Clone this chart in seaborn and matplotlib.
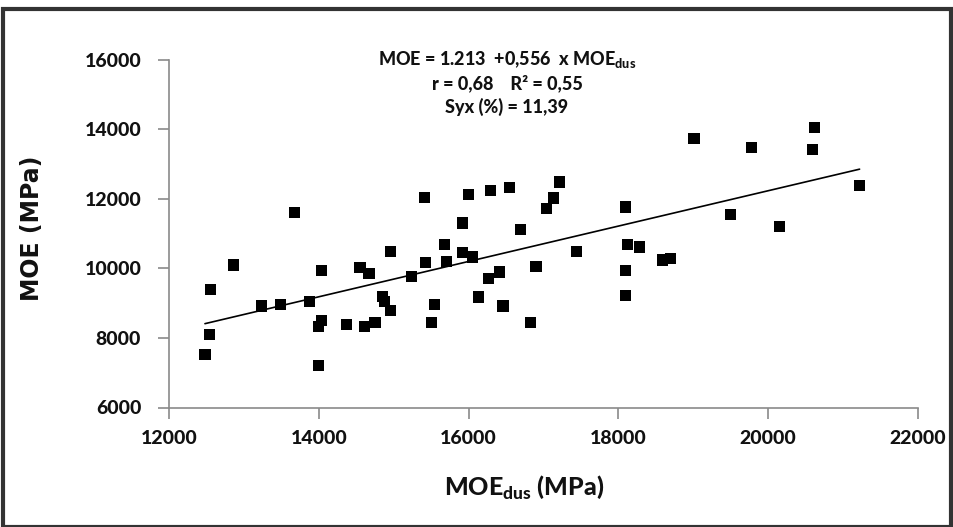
import numpy as np
import pandas as pd
import matplotlib
matplotlib.use("Agg")
import matplotlib.pyplot as plt
import seaborn as sns
from matplotlib.patches import Rectangle

moe_dus = [12480, 12540, 12560, 12860, 13240, 13490, 13670, 13880, 14040, 14040,
           14000, 14000, 14370, 14610, 14750, 14550, 14670, 14850, 14880, 14960,
           14960, 15240, 15410, 15420, 15500, 15540, 15680, 15700, 15920, 15920,
           16000, 16055, 16130, 16270, 16410, 16290, 16460, 16550, 16690, 16830,
           17210, 17130, 17040, 17440, 16900, 18100, 18120, 18280, 18100, 18100,
           18590, 18700, 19010, 19780, 20620, 20590, 21220, 19500, 20150]
moe = [7530, 8100, 9390, 10100, 8920, 8960, 11600, 9040, 9940, 8500,
       8330, 7210, 8400, 8330, 8450, 10030, 9850, 9190, 9050, 8790,
       10500, 9760, 12040, 10160, 8450, 8970, 10700, 10200, 11310, 10470,
       12140, 10330, 9180, 9700, 9900, 12240, 8920, 12330, 11130, 8450,
       12490, 12030, 11720, 10500, 10060, 11770, 10700, 10620, 9950, 9220,
       10245, 10280, 13730, 13480, 14070, 13430, 12400, 11560, 11210]

x_ticks = [12000, 14000, 16000, 18000, 20000, 22000]
y_ticks = [6000, 8000, 10000, 12000, 14000, 16000]

eq_lines = [r"MOE = 1.213  +0,556  x MOE$_{\mathbf{dus}}$",
            "r = 0,68    R² = 0,55",
            "Syx (%) = 11,39"]

df = pd.DataFrame({"MOEdus": moe_dus, "MOE": moe})

sns.set_theme(style="white")
plt.rcParams["font.family"] = ["Lato", "DejaVu Sans"]
plt.rcParams["mathtext.fontset"] = "custom"
plt.rcParams["mathtext.rm"] = "Lato"
plt.rcParams["mathtext.bf"] = "Lato:black"

fig = plt.figure(figsize=(9.54, 5.27), dpi=100)
ax = fig.add_axes([169/954, 1 - 407.5/527, (918 - 169)/954, (407.5 - 60)/527])

sns.regplot(data=df, x="MOEdus", y="MOE", ax=ax, ci=None, marker="s",
            scatter_kws=dict(s=64, color="black", edgecolors="none", alpha=1),
            line_kws=dict(color="black", lw=1.2))

ax.set_xlim(12000, 22000)
ax.set_ylim(6000, 16000)
ax.set_xticks(x_ticks)
ax.set_yticks(y_ticks)
ax.set_xticklabels([str(t) for t in x_ticks], fontweight="black", fontsize=14, color="#111111")
ax.set_yticklabels([str(t) for t in y_ticks], fontweight="black", fontsize=14, color="#111111")
for s in ["top", "right"]:
    ax.spines[s].set_visible(False)
for s in ["left", "bottom"]:
    ax.spines[s].set_color("#8a8a8a")
    ax.spines[s].set_linewidth(1.2)
ax.tick_params(axis="x", which="major", direction="out", length=8, width=1.2,
               color="#8a8a8a", bottom=True, pad=8)
ax.tick_params(axis="y", which="major", direction="out", length=8, width=1.2,
               color="#8a8a8a", left=True, pad=12)

ax.set_xlabel(r"MOE$_{\mathbf{dus}}$ (MPa)", fontsize=18, fontweight="black",
              color="#111111")
ax.xaxis.set_label_coords((524 - 169) / (918 - 169), -(487 - 407.5) / (407.5 - 60))
ax.xaxis.label.set_va("center")
ax.set_ylabel("MOE (MPa)", fontsize=17, fontweight="bold", color="#111111",
              family=["Verdana", "DejaVu Sans"])
ax.yaxis.set_label_coords(-(169 - 32) / (918 - 169), (407.5 - 228) / (407.5 - 60))
ax.yaxis.label.set_va("center")

for i, line in enumerate(eq_lines):
    fig.text(507/954, 1 - (60 + 23.5 * i)/527, line, ha="center", va="center",
             fontsize=13, fontweight="black", color="#111111")

fig.patches.append(Rectangle((3/954, 0), 1 - 6/954, 1 - 9/527, transform=fig.transFigure,
                             fill=False, edgecolor="#333333", lw=3))

fig.savefig("out.png", dpi=100)
